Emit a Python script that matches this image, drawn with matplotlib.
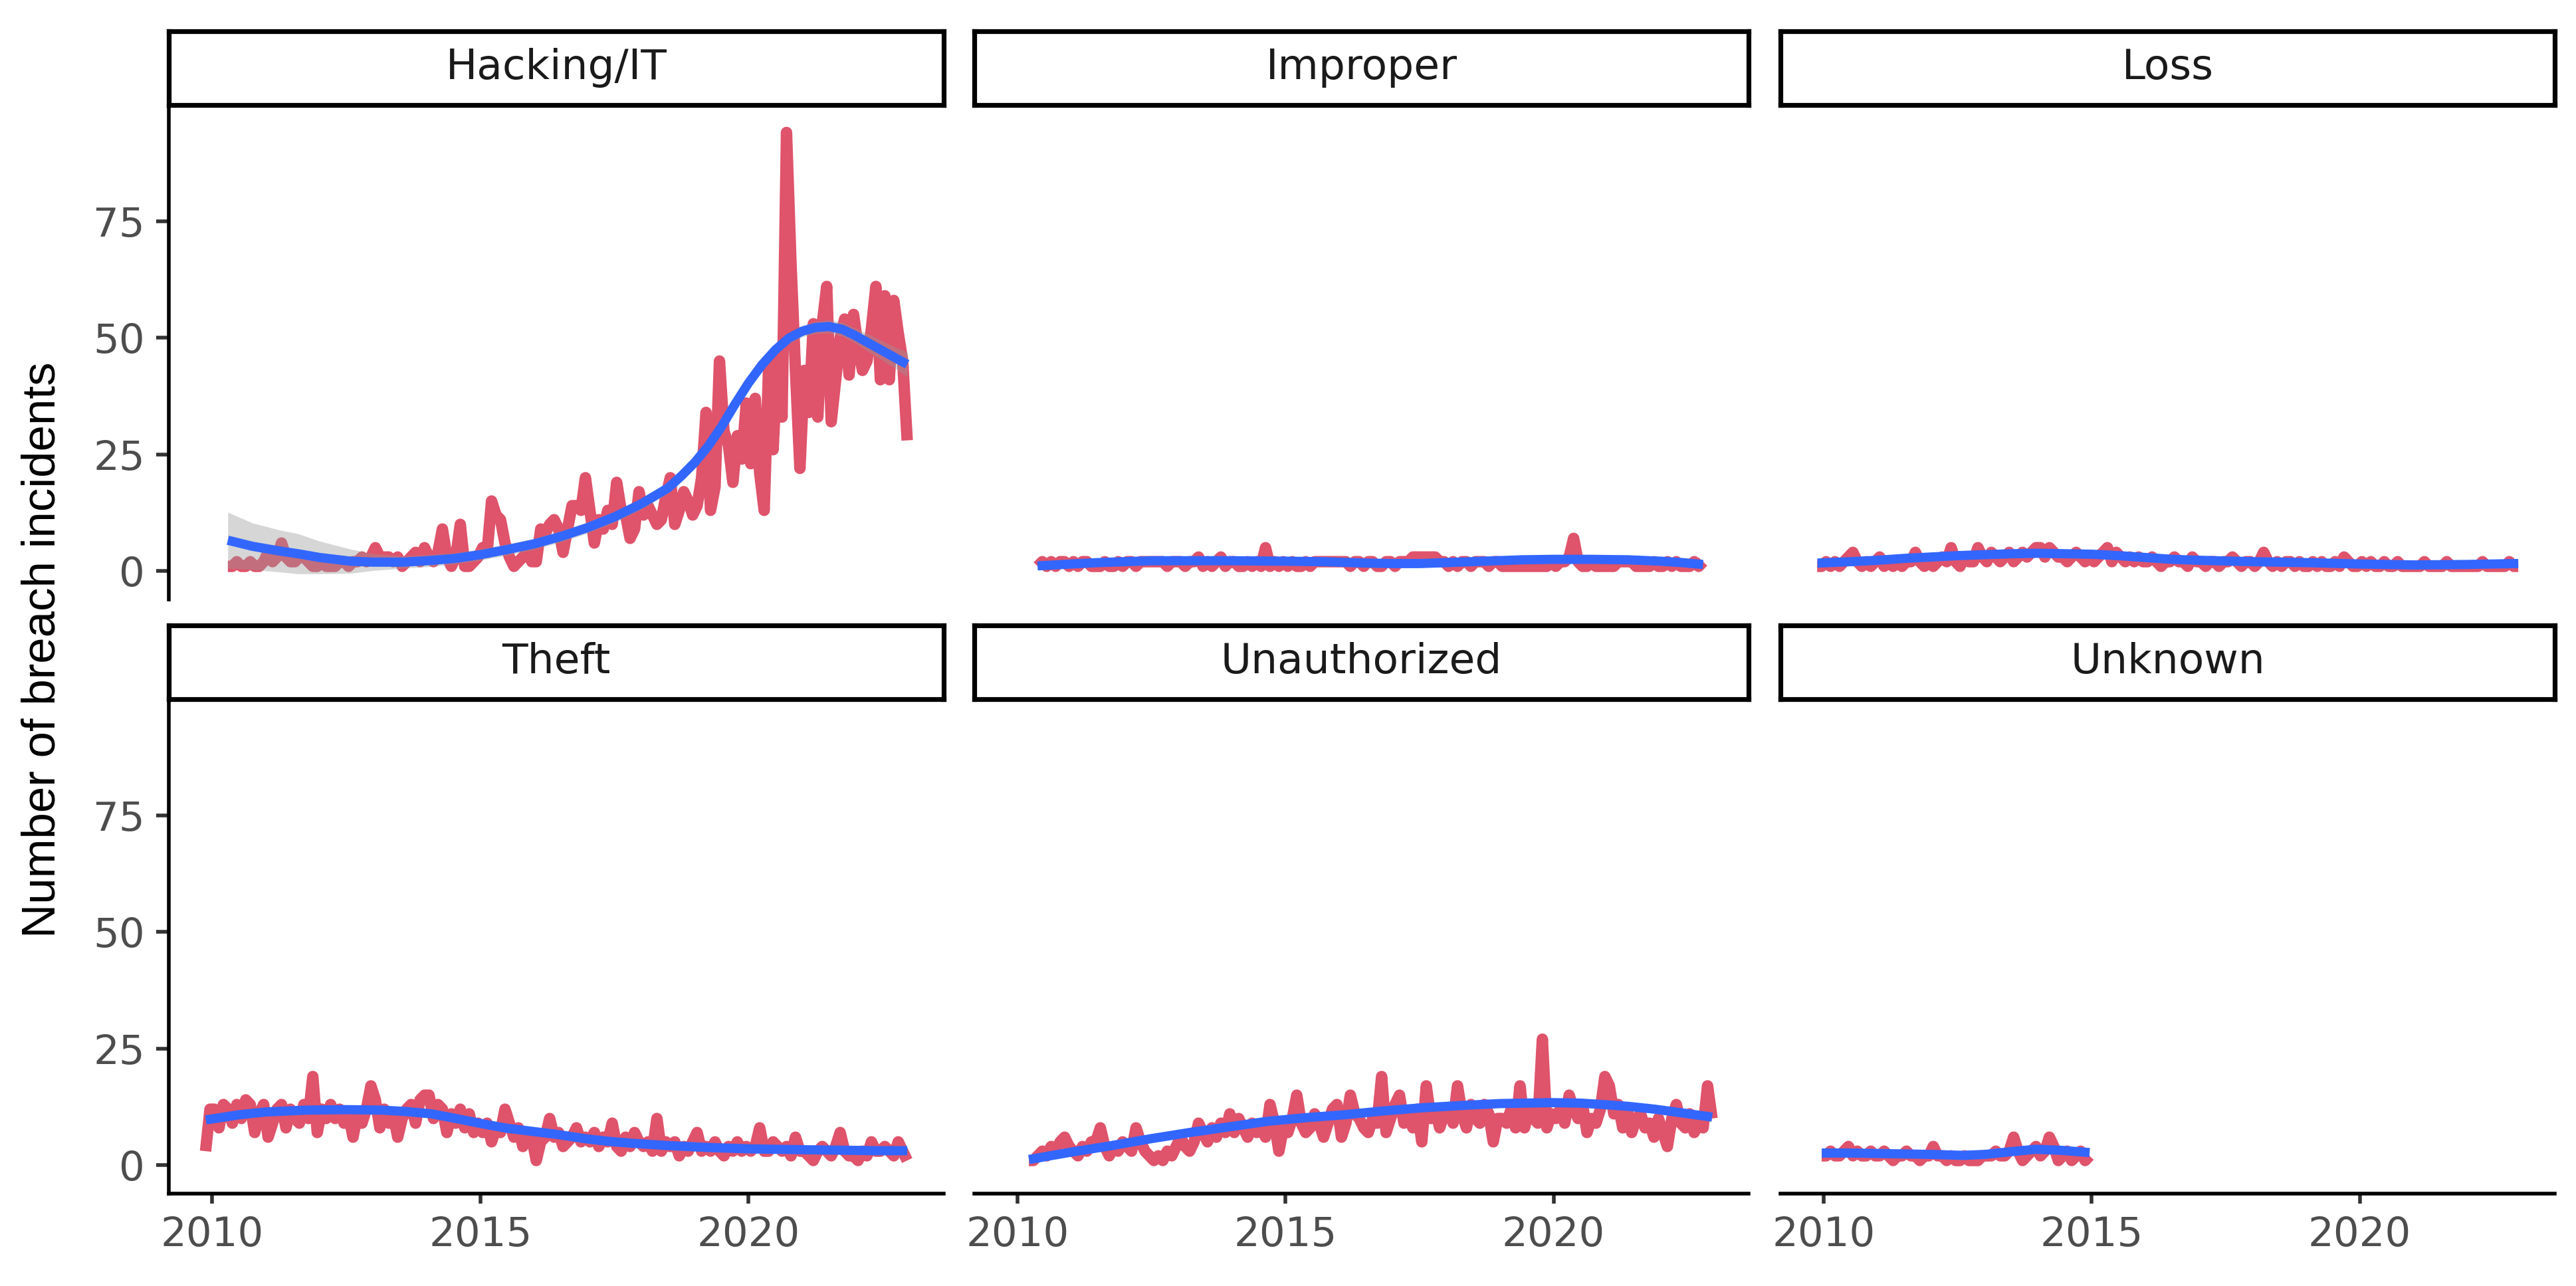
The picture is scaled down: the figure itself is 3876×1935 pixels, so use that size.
import numpy as np
import pandas as pd
import matplotlib
matplotlib.use("Agg")
import matplotlib.pyplot as plt

# ---------------- data ----------------
categories = ["Hacking/IT", "Improper", "Loss", "Theft", "Unauthorized", "Unknown"]
y_label = "Number of breach incidents"
x_ticks = [2010, 2015, 2020]
y_ticks = [0, 25, 50, 75]

start_month = {
    "Hacking/IT": "2010-04",
    "Improper": "2010-05",
    "Loss": "2009-11",
    "Theft": "2009-11",
    "Unauthorized": "2010-03",
    "Unknown": "2009-12",
}

hacking = [
    1, 1, 2, 1, 1, 2, 1, 1, 2,
    4, 2, 3, 6, 3, 2, 2, 3, 3, 2, 1, 1,
    2, 1, 1, 1, 2, 2, 1, 2, 2, 3, 2, 3,
    5, 3, 3, 3, 2, 3, 1, 2, 3, 4, 2, 5,
    3, 2, 4, 9, 3, 1, 3, 10, 1, 1, 2, 3,
    5, 4, 15, 12, 11, 6, 3, 1, 2, 3, 4, 2,
    2, 9, 8, 10, 11, 9, 4, 9, 14, 14, 13, 20,
    13, 6, 11, 9, 13, 10, 19, 13, 12, 7, 9, 17,
    12, 14, 12, 10, 11, 16, 20, 10, 13, 17, 15, 12,
    14, 20, 34, 13, 18, 45, 30, 27, 19, 29, 24, 36,
    23, 37, 21, 13, 44, 26, 46, 33, 94, 66, 43, 22,
    43, 34, 53, 33, 53, 61, 32, 41, 50, 54, 42, 55,
    48, 43, 45, 52, 61, 41, 59, 41, 58, 51, 45, 28,
]

improper = [
    1, 2, 1, 2, 1, 2, 2, 1,
    2, 1, 2, 2, 1, 1, 1, 2, 1, 1, 2, 1,
    2, 2, 1, 2, 2, 2, 2, 2, 2, 1, 2, 2,
    2, 1, 2, 2, 3, 1, 2, 1, 2, 3, 1, 2,
    2, 1, 1, 2, 1, 2, 1, 5, 1, 2, 1, 2,
    1, 2, 1, 1, 2, 1, 2, 2, 2, 2, 2, 2,
    2, 2, 1, 2, 2, 1, 2, 2, 1, 1, 2, 2,
    1, 2, 2, 2, 3, 3, 3, 3, 3, 3, 2, 2,
    1, 2, 1, 2, 2, 1, 2, 2, 2, 1, 2, 2,
    1, 1, 1, 1, 1, 1, 1, 1, 1, 1, 1, 2,
    1, 2, 2, 3, 7, 2, 1, 1, 2, 1, 1, 1,
    1, 1, 2, 2, 2, 2, 1, 1, 1, 1, 2, 1,
    1, 2, 1, 2, 1, 1, 1, 2, 1, 2,
]

loss = [
    1, 1,
    2, 1, 2, 1, 2, 3, 4, 2, 1, 2, 1, 2,
    3, 1, 2, 1, 2, 1, 2, 2, 4, 2, 1, 2,
    1, 2, 3, 2, 5, 2, 1, 3, 2, 2, 5, 3,
    2, 4, 3, 2, 3, 4, 2, 3, 4, 3, 4, 5,
    5, 3, 5, 4, 3, 3, 2, 3, 4, 3, 2, 3,
    2, 3, 4, 5, 2, 4, 3, 2, 3, 2, 3, 2,
    2, 3, 2, 1, 2, 2, 3, 2, 2, 1, 3, 2,
    2, 1, 2, 2, 1, 2, 2, 3, 2, 1, 2, 2,
    1, 2, 4, 2, 1, 2, 1, 2, 2, 1, 2, 1,
    1, 2, 1, 2, 1, 1, 2, 1, 3, 2, 1, 1,
    2, 1, 2, 1, 1, 2, 1, 1, 2, 1, 1, 1,
    1, 1, 2, 1, 1, 1, 1, 2, 1, 1, 1, 1,
    1, 1, 1, 2, 1, 1, 1, 1, 1, 2, 1, 1,
]

theft = [
    3, 12,
    12, 8, 13, 12, 9, 13, 10, 14, 13, 7, 11, 13,
    6, 9, 12, 13, 8, 12, 10, 9, 13, 10, 19, 7,
    12, 10, 13, 10, 12, 9, 11, 6, 11, 9, 12, 17,
    14, 8, 12, 9, 11, 6, 10, 12, 13, 9, 14, 15,
    15, 10, 13, 12, 7, 11, 9, 12, 8, 11, 7, 9,
    7, 9, 5, 8, 7, 12, 9, 6, 8, 4, 7, 6,
    1, 5, 6, 10, 6, 7, 4, 5, 6, 8, 5, 6,
    5, 7, 4, 6, 5, 9, 4, 3, 6, 4, 7, 5,
    4, 5, 3, 10, 3, 5, 4, 5, 2, 4, 3, 5,
    7, 3, 4, 3, 5, 3, 2, 4, 3, 5, 3, 4,
    3, 4, 8, 3, 3, 5, 4, 3, 4, 2, 6, 3,
    3, 2, 1, 3, 4, 3, 2, 4, 7, 3, 2, 2,
    1, 3, 2, 5, 3, 3, 4, 3, 2, 5, 3, 1,
]

unauthorized = [
    1, 1, 2, 3, 2, 4, 3, 5, 6, 4,
    3, 2, 4, 3, 5, 5, 8, 4, 2, 4, 3, 5,
    4, 3, 8, 5, 3, 2, 1, 2, 1, 3, 2, 4,
    6, 4, 3, 5, 9, 7, 5, 8, 6, 9, 7, 11,
    7, 10, 8, 6, 9, 7, 8, 6, 13, 9, 3, 8,
    7, 10, 15, 9, 7, 8, 11, 9, 6, 9, 12, 13,
    6, 9, 15, 11, 10, 8, 7, 10, 9, 19, 7, 10,
    13, 15, 9, 11, 8, 12, 5, 17, 10, 12, 8, 11,
    12, 9, 17, 11, 8, 13, 10, 9, 13, 11, 5, 10,
    10, 9, 12, 8, 17, 8, 12, 10, 9, 27, 8, 11,
    10, 12, 9, 15, 12, 10, 13, 7, 10, 9, 12, 19,
    17, 11, 13, 8, 12, 7, 10, 11, 8, 9, 6, 10,
    7, 4, 10, 13, 9, 8, 11, 7, 9, 8, 17, 10,
]

unknown = [
    2,
    2, 3, 2, 2, 3, 4, 2, 3, 2, 2, 3, 2,
    2, 3, 2, 1, 2, 2, 3, 2, 2, 1, 2, 2,
    4, 2, 2, 1, 2, 1, 1, 2, 1, 1, 1, 2,
    2, 2, 3, 2, 2, 3, 6, 3, 1, 2, 3, 4,
    2, 3, 6, 4, 1, 2, 3, 1, 2, 3, 1, 2,
]

series = {
    "Hacking/IT": hacking,
    "Improper": improper,
    "Loss": loss,
    "Theft": theft,
    "Unauthorized": unauthorized,
    "Unknown": unknown,
}

# smoothed trend
smooth_x = {
    "Hacking/IT": [2010.29, 2010.75, 2011.25, 2011.6, 2012.0, 2012.58, 2013.0, 2013.56,
                   2014.0, 2014.53, 2015.0, 2015.5, 2016.0, 2016.5, 2017.0, 2017.5,
                   2018.0, 2018.5, 2018.75, 2019.0, 2019.25, 2019.5, 2019.75, 2020.0,
                   2020.25, 2020.5, 2020.75, 2021.0, 2021.25, 2021.5, 2021.75, 2022.0,
                   2022.25, 2022.5, 2022.75, 2022.96],
    "Improper": [2010.37, 2011.0, 2011.5, 2012.0, 2012.5, 2013.0, 2014.0, 2015.0, 2015.7,
                 2016.5, 2017.0, 2017.5, 2018.0, 2018.7, 2019.4, 2020.0, 2020.7, 2021.4,
                 2022.0, 2022.4, 2022.79],
    "Loss": [2009.88, 2010.5, 2011.0, 2011.5, 2012.0, 2012.5, 2013.0, 2013.5, 2014.0,
             2014.5, 2015.0, 2015.5, 2016.0, 2016.5, 2017.0, 2018.0, 2019.0, 2020.0,
             2021.0, 2022.0, 2022.96],
    "Theft": [2009.88, 2010.5, 2011.0, 2011.76, 2012.5, 2013.16, 2013.6, 2014.09, 2014.5,
              2015.02, 2015.5, 2016.0, 2016.42, 2017.0, 2017.4, 2017.82, 2018.5, 2019.22,
              2020.0, 2020.5, 2021.08, 2021.8, 2022.4, 2022.96],
    "Unauthorized": [2010.21, 2010.6, 2011.0, 2011.76, 2012.5, 2013.21, 2014.0, 2014.66,
                     2015.4, 2016.1, 2016.8, 2017.55, 2018.3, 2019.0, 2019.96, 2020.5,
                     2020.92, 2021.4, 2021.89, 2022.4, 2022.96],
    "Unknown": [2009.96, 2010.5, 2011.0, 2011.5, 2012.0, 2012.6, 2013.0, 2013.5, 2013.95,
                2014.4, 2014.96],
}
smooth_y = {
    "Hacking/IT": [6.6, 5.3, 4.3, 3.7, 2.9, 2.1, 1.9, 1.9, 2.2, 2.7, 3.5, 4.6, 5.8, 7.4,
                   9.3, 11.6, 14.4, 17.8, 20.4, 23.3, 26.8, 31.0, 35.8, 40.3, 44.2, 47.4,
                   49.9, 51.4, 52.2, 52.4, 51.8, 50.4, 48.8, 47.2, 45.6, 44.3],
    "Improper": [1.1, 1.5, 1.8, 2.0, 2.2, 2.2, 2.2, 2.1, 2.0, 1.7, 1.6, 1.6, 1.8, 2.1,
                 2.4, 2.5, 2.5, 2.4, 2.1, 1.8, 1.4],
    "Loss": [1.7, 2.0, 2.3, 2.7, 3.0, 3.3, 3.5, 3.7, 3.8, 3.7, 3.6, 3.3, 2.9, 2.5, 2.3,
             2.0, 1.8, 1.5, 1.3, 1.4, 1.6],
    "Theft": [9.7, 10.8, 11.4, 11.8, 11.9, 11.8, 11.5, 11.0, 10.1, 8.9, 7.9, 7.2, 6.6,
              5.6, 5.1, 4.7, 4.2, 3.8, 3.5, 3.4, 3.3, 3.2, 3.1, 3.1],
    "Unauthorized": [1.2, 2.0, 2.8, 4.2, 5.7, 7.0, 8.3, 9.4, 10.2, 10.8, 11.6, 12.3,
                     12.8, 13.2, 13.4, 13.3, 13.0, 12.6, 12.0, 11.2, 10.3],
    "Unknown": [2.6, 2.6, 2.5, 2.4, 2.3, 2.1, 2.3, 2.9, 3.4, 3.2, 2.7],
}
# confidence band visible on the Hacking/IT panel
hacking_band_lo = [0.6, 0.3, -0.2, -0.6, -0.6, -0.5, 0.1, 0.6, 0.9, 1.5, 2.3, 3.4, 4.6,
                   6.2, 8.1, 10.4, 13.2, 16.6, 19.2, 22.1, 25.6, 29.8, 34.6, 39.1, 43.0,
                   46.2, 48.7, 50.2, 50.9, 51.0, 50.3, 48.8, 46.9, 45.1, 43.3, 41.6]
hacking_band_hi = [12.6, 10.3, 8.8, 8.0, 6.4, 4.7, 3.7, 3.2, 3.5, 3.9, 4.7, 5.8, 7.0,
                   8.6, 10.5, 12.8, 15.6, 19.0, 21.6, 24.5, 28.0, 32.2, 37.0, 41.5, 45.4,
                   48.6, 51.1, 52.6, 53.5, 53.8, 53.3, 52.0, 50.7, 49.3, 47.9, 47.0]

# ---------------- styling ----------------
RED = "#DF536B"
BLUE = "#3366FF"
W, H = 3876, 1935
DPI = 200
XLIM = (2009.19, 2023.64)
YLIM = (-6.1, 99.6)

col_px = [(254, 1420), (1466, 2631), (2679, 3844)]
row_px = [(160, 902), (1054, 1796)]
strip_px = [(47, 158), (941, 1052)]


def month_centers(start, n):
    p = pd.period_range(start=start, periods=n, freq="M")
    return np.asarray(p.year + (p.month - 0.5) / 12.0, dtype=float)


def fig_rect(x0, x1, y0, y1):
    return [x0 / W, 1 - y1 / H, (x1 - x0) / W, (y1 - y0) / H]


fig = plt.figure(figsize=(W / DPI, H / DPI), dpi=DPI)
fig.patch.set_facecolor("white")

for i, cat in enumerate(categories):
    r, c = divmod(i, 3)
    x0, x1 = col_px[c]
    y0, y1 = row_px[r]
    ax = fig.add_axes(fig_rect(x0, x1, y0, y1))
    vals = np.asarray(series[cat], dtype=float)
    xs = month_centers(start_month[cat], len(vals))
    ax.plot(xs, vals, color=RED, lw=6.2, solid_capstyle="butt",
            solid_joinstyle="round", zorder=2)
    if cat == "Hacking/IT":
        ax.fill_between(smooth_x[cat], hacking_band_lo, hacking_band_hi,
                        color="#999999", alpha=0.4, lw=0, zorder=3)
    ax.plot(smooth_x[cat], smooth_y[cat], color=BLUE, lw=5.0,
            solid_capstyle="butt", solid_joinstyle="round", zorder=4)

    ax.set_xlim(*XLIM)
    ax.set_ylim(*YLIM)
    ax.set_facecolor("white")
    for s in ["top", "right"]:
        ax.spines[s].set_visible(False)
    ax.spines["left"].set_visible(c == 0)
    ax.spines["bottom"].set_visible(r == 1)
    for s in ["left", "bottom"]:
        ax.spines[s].set_linewidth(2.0)
        ax.spines[s].set_color("black")

    ax.set_yticks(y_ticks)
    ax.set_xticks(x_ticks)
    ax.tick_params(axis="y", length=7, width=2.0, color="#333333", pad=6,
                   labelsize=22, labelcolor="#4D4D4D",
                   left=(c == 0), labelleft=(c == 0))
    ax.tick_params(axis="x", length=5.5, width=2.0, color="#333333", pad=6.5,
                   labelsize=22, labelcolor="#4D4D4D",
                   bottom=(r == 1), labelbottom=(r == 1))

    # facet strip
    sy0, sy1 = strip_px[r]
    sax = fig.add_axes(fig_rect(x0, x1, sy0, sy1))
    sax.set_xticks([])
    sax.set_yticks([])
    sax.set_facecolor("white")
    for s in sax.spines.values():
        s.set_linewidth(2.6)
        s.set_color("black")
    sax.text(0.5, 0.5, cat, ha="center", va="center", fontsize=22.7,
             color="#1A1A1A", transform=sax.transAxes)

fig.text(65 / W, 1 - 978 / H, y_label, rotation=90, ha="center", va="center",
         fontsize=25.5, color="black", family=["Liberation Sans", "DejaVu Sans"])

fig.savefig("out.png", dpi=DPI, facecolor="white")
